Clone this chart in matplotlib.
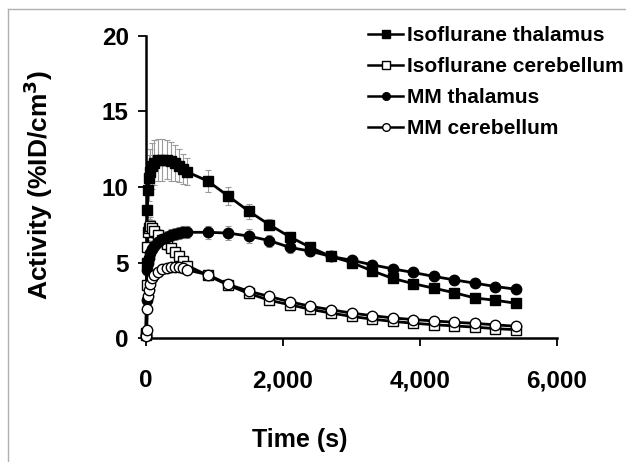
import numpy as np
import matplotlib.pyplot as plt
from matplotlib.lines import Line2D

plt.rcParams['font.family'] = ['Liberation Sans', 'DejaVu Sans']
plt.rcParams['font.weight'] = 'bold'

# frame times (s)
time_s = [0, 10, 20, 30, 40, 60, 90, 120, 180, 240, 300, 360, 420, 480, 540, 600,
          900, 1200, 1500, 1800, 2100, 2400, 2700, 3000, 3300, 3600, 3900, 4200,
          4500, 4800, 5100, 5400]

# activity (%ID/cm3)
iso_thal = [0.3, 5.0, 8.5, 9.8, 10.6, 11.0, 11.4, 11.6, 11.8, 11.8, 11.8, 11.7, 11.6, 11.4, 11.2, 11.0,
            10.4, 9.4, 8.4, 7.5, 6.7, 6.0, 5.4, 5.0, 4.45, 3.95, 3.6, 3.3, 3.0, 2.65, 2.5, 2.3]
iso_thal_err = [0.2, 0.8, 1.2, 1.4, 1.5, 1.5, 1.5, 1.5, 1.4, 1.4, 1.3, 1.3, 1.2, 1.1, 1.0, 0.9,
                0.7, 0.6, 0.5, 0.35, 0.3, 0.25, 0.2, 0.2, 0.2, 0.15, 0.15, 0.1, 0.1, 0.1, 0.1, 0.1]

iso_cere = [0.2, 3.5, 6.0, 7.0, 7.3, 7.4, 7.3, 7.1, 6.8, 6.5, 6.2, 5.95, 5.7, 5.4, 5.1, 4.8,
            4.15, 3.5, 2.95, 2.5, 2.2, 1.9, 1.65, 1.43, 1.25, 1.1, 0.98, 0.88, 0.8, 0.72, 0.62, 0.55]
iso_cere_err = [0.1, 0.4, 0.5, 0.6, 0.6, 0.6, 0.5, 0.5, 0.4, 0.4, 0.35, 0.3, 0.3, 0.3, 0.25, 0.25,
                0.2, 0.15, 0.15, 0.1, 0.1, 0.1, 0.1, 0.1, 0.1, 0.1, 0.08, 0.08, 0.08, 0.08, 0.08, 0.08]

mm_thal = [0.2, 2.5, 4.5, 5.0, 5.3, 5.6, 5.9, 6.1, 6.35, 6.55, 6.7, 6.8, 6.9, 6.95, 7.0, 7.0,
           7.0, 6.95, 6.75, 6.45, 6.0, 5.75, 5.4, 5.15, 4.85, 4.58, 4.34, 4.08, 3.85, 3.63, 3.41, 3.23]
mm_thal_err = [0.1, 0.3, 0.4, 0.4, 0.4, 0.4, 0.4, 0.4, 0.4, 0.4, 0.4, 0.4, 0.4, 0.4, 0.4, 0.4,
               0.45, 0.45, 0.45, 0.4, 0.4, 0.35, 0.3, 0.25, 0.2, 0.15, 0.15, 0.1, 0.1, 0.1, 0.1, 0.1]

mm_cere = [0.1, 0.5, 1.9, 2.8, 3.2, 3.6, 3.95, 4.15, 4.35, 4.55, 4.65, 4.7, 4.72, 4.7, 4.65, 4.5,
           4.2, 3.55, 3.1, 2.75, 2.4, 2.1, 1.87, 1.65, 1.48, 1.33, 1.22, 1.13, 1.04, 0.97, 0.87, 0.78]
mm_cere_err = [0.05, 0.1, 0.2, 0.2, 0.2, 0.2, 0.2, 0.2, 0.2, 0.2, 0.2, 0.2, 0.2, 0.2, 0.2, 0.2,
               0.2, 0.15, 0.15, 0.1, 0.1, 0.1, 0.08, 0.08, 0.08, 0.08, 0.08, 0.08, 0.08, 0.08, 0.08, 0.08]

series = [
    ("Isoflurane thalamus", iso_thal, iso_thal_err, 's', 'black'),
    ("Isoflurane cerebellum", iso_cere, iso_cere_err, 's', 'white'),
    ("MM thalamus", mm_thal, mm_thal_err, 'o', 'black'),
    ("MM cerebellum", mm_cere, mm_cere_err, 'o', 'white'),
]

fig = plt.figure(figsize=(6.26, 4.62), dpi=100)
ax = fig.add_axes([146/626, 1 - 338/462, (557 - 146)/626, (338 - 36)/462])

# error bars first, in grey behind the lines
for name, y, err, mk, fc in series:
    ax.errorbar(time_s, y, yerr=err, fmt='none', ecolor='#9a9a9a',
                elinewidth=0.8, capsize=2.5, capthick=0.8, zorder=1)

for name, y, err, mk, fc in series:
    ms = 7 if mk == 's' else 7.5
    ax.plot(time_s, y, color='black', lw=2.0, marker=mk, ms=ms,
            mfc=fc, mec='black', mew=1.0, zorder=3, clip_on=False)

ax.set_xlim(0, 6000)
ax.set_ylim(0, 20)
ax.set_xticks([0, 2000, 4000, 6000])
ax.set_xticklabels(['0', '2,000', '4,000', '6,000'])
ax.set_yticks([0, 5, 10, 15, 20])
for s in ['top', 'right']:
    ax.spines[s].set_visible(False)
for s in ['left', 'bottom']:
    ax.spines[s].set_linewidth(1.8)
ax.tick_params(direction='out', length=5.5, width=1.3, labelsize=17.5)
ax.tick_params(axis='x', pad=17)
ax.tick_params(axis='y', pad=7)

fig.text(300/626, 1 - 440/462, 'Time (s)', ha='center', va='center',
         fontsize=18, fontweight='bold')
fig.text(38/626, 1 - 185/462, 'Activity (%ID/cm$^\\mathbf{3}$)', ha='center', va='center',
         rotation=90, fontsize=19, fontweight='bold')

handles = [Line2D([], [], color='black', lw=1.8, marker=mk, ms=5.5, mfc=fc, mec='black', mew=1.0)
           for name, y, err, mk, fc in series]
labels = [name for name, y, err, mk, fc in series]
fig.legend(handles, labels, loc='upper left', bbox_to_anchor=(368/626, 1 - 26/462),
           frameon=False, fontsize=15, handlelength=1.7, handletextpad=0.15,
           labelspacing=0.58, borderpad=0, borderaxespad=0)

# thin grey frame around the figure (left and top edges visible)
fig.add_artist(Line2D([8/626, 8/626], [0, 1 - 9/462], transform=fig.transFigure,
                      color='#b0b0b0', lw=1))
fig.add_artist(Line2D([8/626, 1], [1 - 9/462, 1 - 9/462], transform=fig.transFigure,
                      color='#b0b0b0', lw=1))

fig.savefig('out.png', dpi=100)
